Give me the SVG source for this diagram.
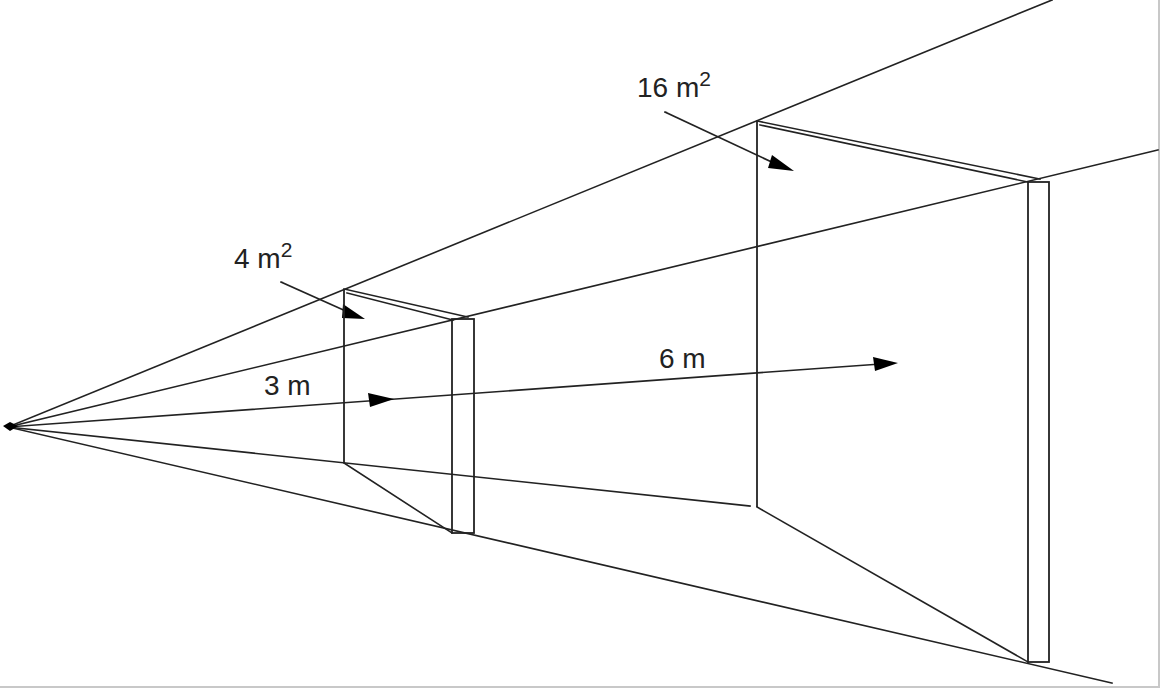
<svg xmlns="http://www.w3.org/2000/svg" width="1160" height="688" viewBox="0 0 1160 688">
<style>
.ln{stroke:#222;stroke-width:1.6;fill:none;stroke-linecap:square}
.edge{stroke:#222;stroke-width:1.8;fill:none}
.box{stroke:#222;stroke-width:1.8;fill:none}
.ah{fill:#000;stroke:none}
.lbl{font-family:"Liberation Sans",Arial,sans-serif;font-size:28px;fill:#222}
.sup{font-size:21px}
</style>
<rect x="0" y="0" width="1160" height="688" fill="#fff"/>
<g id="frame"><path d="M0 687 H1159 V0" stroke="#c8c8c8" stroke-width="2" fill="none"/></g>
<g id="connectors">
  <line class="ln" x1="8" y1="427" x2="1052" y2="0"/>
  <line class="ln" x1="8" y1="427" x2="1158" y2="150"/>
  <line class="ln" x1="8" y1="427" x2="880" y2="364"/>
  <line class="ln" x1="8" y1="427" x2="750" y2="506"/>
  <line class="ln" x1="8" y1="427" x2="1112" y2="683"/>
  <line class="ln" x1="281" y1="282" x2="350" y2="313"/>
  <line class="ln" x1="665" y1="112" x2="778" y2="165"/>
  <polygon class="ah" points="368,393 370,407 394,399"/>
  <polygon class="ah" points="873,357 875,371 898,363"/>
  <polygon class="ah" points="343,304 342,318 365,319"/>
  <polygon class="ah" points="772,155 768,168 794,171"/>
  <polygon class="ah" points="3,426 10,422 18,426 10,431"/>
</g>
<g id="panel-small">
  <line class="edge" x1="344" y1="289" x2="344" y2="463"/>
  <line class="ln" x1="344" y1="289" x2="468" y2="317"/>
  <line class="ln" x1="347" y1="293" x2="453" y2="320"/>
  <line class="ln" x1="344" y1="463" x2="452" y2="533"/>
  <rect class="box" x="452" y="319" width="22" height="214"/>
</g>
<g id="panel-large">
  <line class="edge" x1="757" y1="121" x2="757" y2="507"/>
  <line class="ln" x1="757" y1="121" x2="1040" y2="179"/>
  <line class="ln" x1="760" y1="125" x2="1028" y2="182"/>
  <line class="ln" x1="757" y1="507" x2="1028" y2="662"/>
  <rect class="box" x="1028" y="182" width="21" height="480"/>
</g>
<g id="labels">
  <text class="lbl" x="234" y="268">4 m<tspan class="sup" dy="-11">2</tspan></text>
  <text class="lbl" x="637" y="97">16 m<tspan class="sup" dy="-11">2</tspan></text>
  <text class="lbl" x="264" y="395">3 m</text>
  <text class="lbl" x="659" y="368">6 m</text>
</g>
</svg>
